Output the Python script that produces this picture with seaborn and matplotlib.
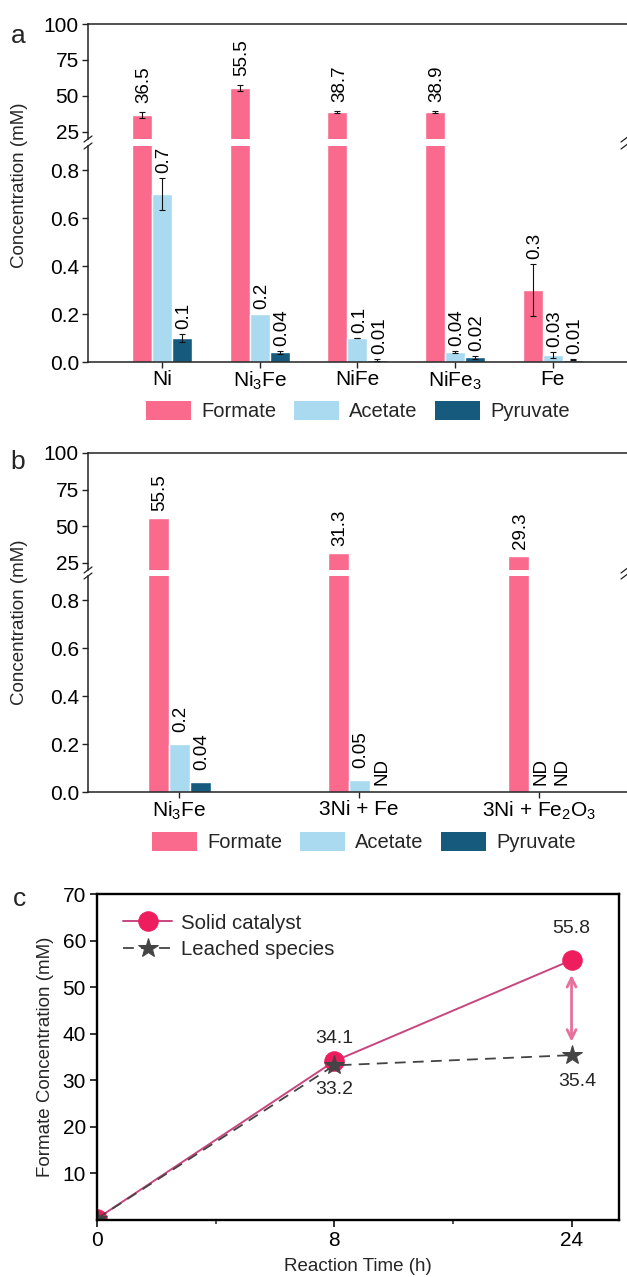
import numpy as np
import pandas as pd
import matplotlib
matplotlib.use("Agg")
import matplotlib.pyplot as plt
from matplotlib.lines import Line2D
from matplotlib.patches import Patch
import seaborn as sns

# ---- data -------------------------------------------------------------
products = ["Formate", "Acetate", "Pyruvate"]

# (a) product concentrations (mM) over the alloy series
catalysts_a = ["Ni", "Ni$_\\mathregular{3}$Fe", "NiFe", "NiFe$_\\mathregular{3}$", "Fe"]
formate_a = [36.5, 55.5, 38.7, 38.9, 0.3]
formate_a_err = [2.1, 1.8, 0.7, 0.6, 0.107]
acetate_a = [0.7, 0.2, 0.1, 0.04, 0.03]
acetate_a_err = [0.065, 0.0, 0.002, 0.004, 0.012]
pyruvate_a = [0.1, 0.04, 0.01, 0.02, 0.01]
pyruvate_a_err = [0.016, 0.005, 0.004, 0.007, 0.002]

# (b) alloy versus physical mixtures; None = not detected
catalysts_b = ["Ni$_\\mathregular{3}$Fe", "3Ni + Fe",
               "3Ni + Fe$_\\mathregular{2}$O$_\\mathregular{3}$"]
formate_b = [55.5, 31.3, 29.3]
acetate_b = [0.2, 0.05, None]
pyruvate_b = [0.04, None, None]

# (c) formate during the hot-filtration test
time_labels = ["0", "8", "24"]
solid_catalyst = [0.3, 34.1, 55.8]
leached_species = [0.3, 33.2, 35.4]

# ---- style ------------------------------------------------------------
sns.set_theme(style="ticks")
plt.rcParams["font.family"] = ["Liberation Sans", "DejaVu Sans"]
plt.rcParams["mathtext.fontset"] = "custom"
plt.rcParams["mathtext.rm"] = "Liberation Sans"
plt.rcParams["axes.edgecolor"] = "#222222"
plt.rcParams["xtick.color"] = "#222222"
plt.rcParams["ytick.color"] = "#222222"
plt.rcParams["xtick.labelcolor"] = "black"
plt.rcParams["ytick.labelcolor"] = "black"

colors = {"Formate": "#FA6A8D", "Acetate": "#A9DAF0", "Pyruvate": "#165A7E"}
palette = [colors[p] for p in products]

TICK_FS = 15
VALUE_FS = 13.5
LABEL_FS = 13.5

W, H = 627, 1277
fig = plt.figure(figsize=(W / 100, H / 100), dpi=100)


def axes_px(left, top, right, bottom):
    return fig.add_axes([left / W, 1 - bottom / H, (right - left) / W, (bottom - top) / H])


def long_frame(cats, series):
    rows = []
    for prod, vals in zip(products, series):
        for c, v in zip(cats, vals):
            rows.append({"catalyst": c, "product": prod,
                         "conc": 0.0 if v is None else v})
    return pd.DataFrame(rows)


def bar_centers(ax):
    centers = []
    for cont in ax.containers[:3]:
        xs = sorted(b.get_x() + b.get_width() / 2 for b in cont)
        centers.append(xs)
    return centers


def break_marks(top_px, bottom_px, xs_px):
    for x in xs_px:
        for y in (top_px, bottom_px):
            fig.add_artist(Line2D([(x - 4) / W, (x + 4) / W],
                                  [1 - (y + 3) / H, 1 - (y - 3) / H],
                                  transform=fig.transFigure, color="#222222", lw=0.9))


def broken_panel(cats, series, width, up_box, low_box, xlim):
    df = long_frame(cats, series)
    up = axes_px(*up_box)
    low = axes_px(*low_box)
    for ax in (up, low):
        sns.barplot(data=df, x="catalyst", y="conc", hue="product", order=cats,
                    hue_order=products, palette=palette, width=width, gap=0,
                    saturation=1, errorbar=None, legend=False, ax=ax)
        ax.set_xlim(*xlim)
        ax.set_xlabel("")
        ax.set_ylabel("")
        ax.tick_params(axis="both", labelsize=TICK_FS, length=4.5, width=1.0, pad=2)
        ax.spines["right"].set_visible(False)
        for s in ax.spines.values():
            s.set_linewidth(1.1)
    up.set_ylim(20, 100)
    up.set_yticks([25, 50, 75, 100])
    up.spines["bottom"].set_visible(False)
    up.tick_params(axis="x", bottom=False, labelbottom=False)
    low.set_ylim(0, 0.9)
    low.set_yticks([0.0, 0.2, 0.4, 0.6, 0.8])
    low.set_yticklabels(["0.0", "0.2", "0.4", "0.6", "0.8"])
    low.spines["top"].set_visible(False)
    low.set_xticks(range(len(cats)))
    low.set_xticklabels(cats, fontsize=TICK_FS)
    low.tick_params(axis="x", pad=1)
    break_marks(up_box[3], low_box[1], [up_box[0], up_box[2] - 4])
    return up, low


def legend_below(y_px, x_px):
    handles = [Patch(facecolor=colors[p], edgecolor="none") for p in products]
    fig.legend(handles, products, loc="center", ncol=3, frameon=False,
               bbox_to_anchor=(x_px / W, 1 - y_px / H), fontsize=14.5,
               handlelength=2.25, handleheight=1.1, columnspacing=0.85,
               handletextpad=0.5, borderaxespad=0)


def value_label(ax, x, y, text, dy):
    ax.annotate(text, xy=(x, y), xytext=(2, dy), textcoords="offset pixels",
                rotation=90, ha="center", va="bottom", fontsize=VALUE_FS,
                color="black")


# ---- (a) --------------------------------------------------------------
up_a, low_a = broken_panel(catalysts_a, [formate_a, acetate_a, pyruvate_a], 0.615,
                           (88, 24, 629, 139), (88, 146, 629, 362), (-0.757, 4.78))
values_a = [formate_a, acetate_a, pyruvate_a]
errors_a = [formate_a_err, acetate_a_err, pyruvate_a_err]
for ax in (up_a, low_a):
    centers = bar_centers(ax)
    for i in range(3):
        v = np.array(values_a[i])
        e = np.array(errors_a[i])
        keep = e > 0
        ax.errorbar(np.array(centers[i])[keep], v[keep], yerr=e[keep], fmt="none",
                    ecolor="#111111", elinewidth=0.8, capsize=2.5, capthick=0.8)
centers_a = bar_centers(low_a)
for i in range(3):
    for j, (v, e) in enumerate(zip(values_a[i], errors_a[i])):
        if v > 10:
            value_label(up_a, centers_a[i][j], v + e, f"{v:g}", 9)
        else:
            value_label(low_a, centers_a[i][j], v + e, f"{v:g}", 5)
fig.text(20 / W, 1 - 185 / H, "Concentration (mM)", rotation=90, ha="center",
         va="center", fontsize=LABEL_FS)
fig.text(18 / W, 1 - 36 / H, "a", ha="center", va="center", fontsize=19)
legend_below(411, 358)

# ---- (b) --------------------------------------------------------------
up_b, low_b = broken_panel(catalysts_b, [formate_b, acetate_b, pyruvate_b], 0.35,
                           (88, 453, 629, 570), (88, 576, 629, 792), (-0.506, 2.5))
values_b = [formate_b, acetate_b, pyruvate_b]
centers_b = bar_centers(low_b)
for i in range(3):
    for j, v in enumerate(values_b[i]):
        if v is None:
            value_label(low_b, centers_b[i][j], 0, "ND", 7)
        elif v > 10:
            value_label(up_b, centers_b[i][j], v, f"{v:g}", 7)
        else:
            value_label(low_b, centers_b[i][j], v, f"{v:g}", 12)
fig.text(20 / W, 1 - 622 / H, "Concentration (mM)", rotation=90, ha="center",
         va="center", fontsize=LABEL_FS)
fig.text(18 / W, 1 - 462 / H, "b", ha="center", va="center", fontsize=19)
legend_below(842, 364)

# ---- (c) --------------------------------------------------------------
axc = axes_px(97, 894, 619, 1220)
pos = np.arange(len(time_labels))
sns.lineplot(x=pos, y=solid_catalyst, color="#C8457E", lw=1.4, marker="o",
             markersize=14, markerfacecolor="#EE1D5E", markeredgecolor="#EE1D5E",
             label="Solid catalyst", ax=axc)
sns.lineplot(x=pos, y=leached_species, color="#444444", lw=1.3, linestyle=(0, (6, 4)),
             marker="*", markersize=15, markerfacecolor="#444444",
             markeredgecolor="#444444", label="Leached species", ax=axc)
axc.set_xlim(0, 2.2)
axc.set_ylim(0, 70)
axc.set_xticks(pos)
axc.set_xticklabels(time_labels)
axc.set_xticks([0.5, 1.5], minor=True)
axc.set_yticks([10, 20, 30, 40, 50, 60, 70])
axc.tick_params(axis="both", which="major", labelsize=TICK_FS, length=5, width=1.3, pad=3)
axc.tick_params(axis="x", which="minor", length=3, width=1.1)
for s in axc.spines.values():
    s.set_visible(True)
    s.set_linewidth(1.7)
    s.set_color("black")
axc.set_xlabel("Reaction Time (h)", fontsize=LABEL_FS, labelpad=6)
axc.set_ylabel("Formate Concentration (mM)", fontsize=LABEL_FS, labelpad=6)

axc.annotate(f"{solid_catalyst[2]:g}", xy=(2, solid_catalyst[2]), xytext=(0, 32),
             textcoords="offset pixels", ha="center", va="center", fontsize=14)
axc.annotate(f"{solid_catalyst[1]:g}", xy=(1, solid_catalyst[1]), xytext=(0, 23),
             textcoords="offset pixels", ha="center", va="center", fontsize=14)
axc.annotate(f"{leached_species[1]:g}", xy=(1, leached_species[1]), xytext=(0, -24),
             textcoords="offset pixels", ha="center", va="center", fontsize=14)
axc.annotate(f"{leached_species[2]:g}", xy=(2, leached_species[2]), xytext=(6, -26),
             textcoords="offset pixels", ha="center", va="center", fontsize=14)
axc.annotate("", xy=(2, 38.3), xytext=(2, 52.6),
             arrowprops=dict(arrowstyle="<->", color="#E6709C", lw=2.0,
                             mutation_scale=16, shrinkA=0, shrinkB=0))

axc.legend(loc="upper left", bbox_to_anchor=(0.035, 0.965), frameon=False,
           fontsize=14.7, handlelength=2.4, handletextpad=0.4, labelspacing=0.35,
           borderaxespad=0)
fig.text(20 / W, 1 - 899 / H, "c", ha="center", va="center", fontsize=19)

fig.savefig("out.png", dpi=100)
